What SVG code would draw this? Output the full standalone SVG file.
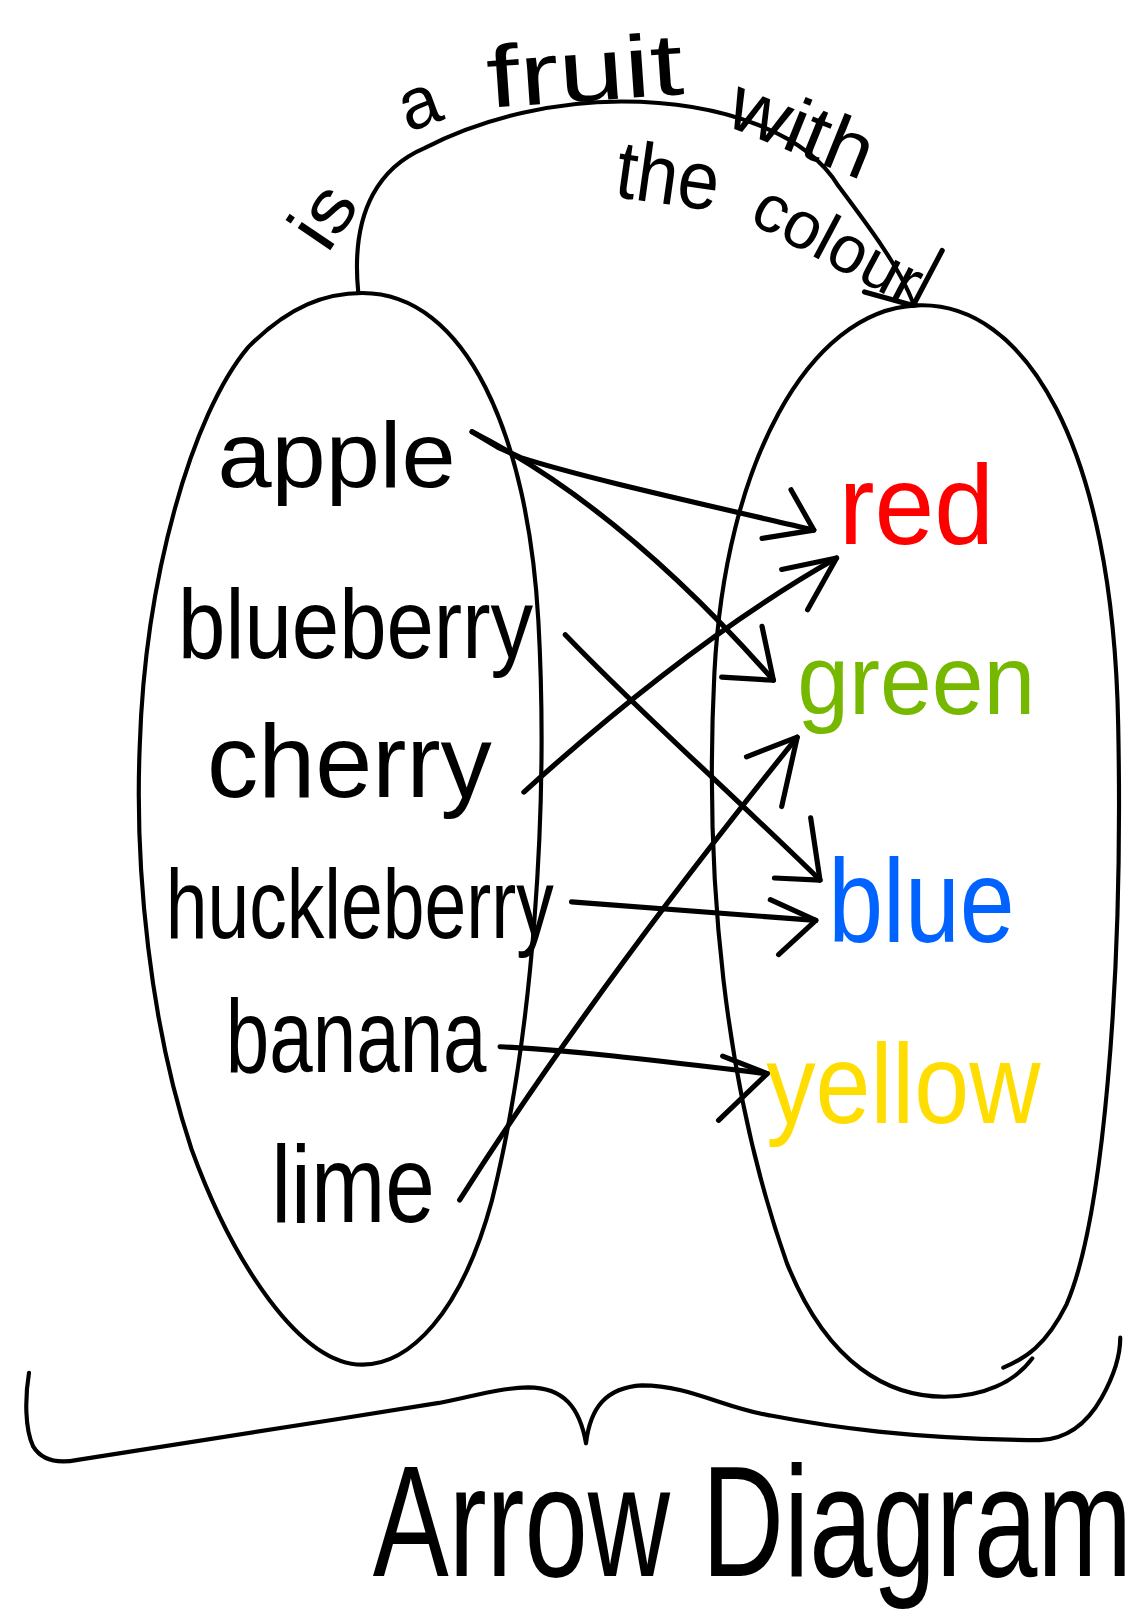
<svg xmlns="http://www.w3.org/2000/svg" width="1142" height="1623" viewBox="0 0 1142 1623">
<style>
.ln{fill:none;stroke:#000;stroke-width:4;stroke-linecap:round;stroke-linejoin:round}
.ar{fill:none;stroke:#000;stroke-width:5;stroke-linecap:round;stroke-linejoin:round}
.t{font-family:"Liberation Sans",Arial,sans-serif;fill:#000}
</style>
<rect width="1142" height="1623" fill="#fff"/>
<g transform="scale(1.035358)">
<g id="domain">
<path class="ln" d="M350,283 C450,283 510,420 520,600 C530,780 515,1000 475,1160 C445,1270 395,1318 350,1318 C290,1318 225,1220 185,1110 C145,990 130,840 135,720 C140,560 185,400 240,335 C280,295 315,283 350,283 Z"/>
<text class="t" x="210" y="470" font-size="90" textLength="230" lengthAdjust="spacingAndGlyphs">apple</text>
<text class="t" x="172" y="636" font-size="95" textLength="343" lengthAdjust="spacingAndGlyphs">blueberry</text>
<text class="t" x="200" y="770" font-size="100" textLength="275" lengthAdjust="spacingAndGlyphs">cherry</text>
<text class="t" x="160" y="906" font-size="95" textLength="375" lengthAdjust="spacingAndGlyphs">huckleberry</text>
<text class="t" x="218" y="1035" font-size="100" textLength="252" lengthAdjust="spacingAndGlyphs">banana</text>
<text class="t" x="262" y="1180" font-size="105" textLength="158" lengthAdjust="spacingAndGlyphs">lime</text>
</g>
<g id="codomain">
<path class="ln" d="M885,295 C990,290 1075,430 1080,700 C1085,950 1065,1180 1030,1260 C1010,1300 990,1312 969,1321"/>
<path class="ln" d="M885,295 C780,300 700,450 690,650 C680,850 700,1050 760,1220 C800,1320 860,1349 912,1349 C950,1349 980,1335 997,1312"/>
<text class="t" x="810" y="525" font-size="110" textLength="150" lengthAdjust="spacingAndGlyphs" style="fill:#ff0000">red</text>
<text class="t" x="770" y="690" font-size="95" textLength="230" lengthAdjust="spacingAndGlyphs" style="fill:#76b700">green</text>
<text class="t" x="800" y="910" font-size="115" textLength="180" lengthAdjust="spacingAndGlyphs" style="fill:#0062ff">blue</text>
<text class="t" x="740" y="1085" font-size="110" textLength="265" lengthAdjust="spacingAndGlyphs" style="fill:#ffdd00">yellow</text>
</g>
<g id="connectors">
<path class="ar" d="M456,417 L481,432 L503,442 C560,460 640,478 786,512"/>
<path class="ar" d="M764,473 L786,512 L736,520"/>
<path class="ar" d="M456,417 Q600,490 747,657"/>
<path class="ar" d="M736,605 L747,657 L697,654"/>
<path class="ar" d="M546,613 C620,690 700,760 792,850"/>
<path class="ar" d="M783,790 L792,850 L748,848"/>
<path class="ar" d="M506,765 C600,680 700,600 808,539"/>
<path class="ar" d="M755,550 L808,539 L780,589"/>
<path class="ar" d="M552,871 C620,876 700,882 788,889"/>
<path class="ar" d="M744,869 L788,889 L752,922"/>
<path class="ar" d="M483,1011 C560,1015 640,1025 741,1037"/>
<path class="ar" d="M698,1020 L741,1037 L694,1082"/>
<path class="ar" d="M444,1159 Q570,960 770,712"/>
<path class="ar" d="M721,731 L770,712 L755,779"/>
<path class="ln" d="M346,282 C338,200 370,160 410,143 C470,112 540,98 600,98 C700,98 780,130 810,180 C840,220 870,260 882,293"/>
<path class="ar" d="M835,282 L882,295 L910,242"/>
</g>
<g id="relation-label">
<text class="t" transform="translate(316,246) rotate(-56)" font-size="72" textLength="58" lengthAdjust="spacingAndGlyphs">is</text>
<text class="t" transform="translate(394,128) rotate(-20)" font-size="70">a</text>
<text class="t" transform="translate(472,104) rotate(-4)" font-size="85" textLength="190" lengthAdjust="spacingAndGlyphs">fruit</text>
<text class="t" transform="translate(698,120) rotate(22)" font-size="75" textLength="145" lengthAdjust="spacingAndGlyphs">with</text>
<text class="t" transform="translate(592,190) rotate(8)" font-size="80" textLength="100" lengthAdjust="spacingAndGlyphs">the</text>
<text class="t" transform="translate(722,214) rotate(28)" font-size="65" textLength="175" lengthAdjust="spacingAndGlyphs">colour</text>
</g>
<g id="brace">
<path class="ln" d="M28,1326 C24,1350 24,1380 32,1397 C40,1410 55,1414 75,1410 C150,1398 300,1375 424,1355 C460,1348 480,1341 510,1340 C545,1340 560,1360 566,1394 C570,1360 585,1340 620,1338 C665,1338 700,1360 743,1367 C800,1378 880,1390 1004,1391 C1030,1390 1050,1375 1064,1350 C1078,1325 1082,1305 1082,1292"/>
</g>
<g id="title">
<text class="t" transform="translate(360,1522) scale(1,1.38)" font-size="110">Arrow Diagram</text>
</g>
</g>
</svg>
